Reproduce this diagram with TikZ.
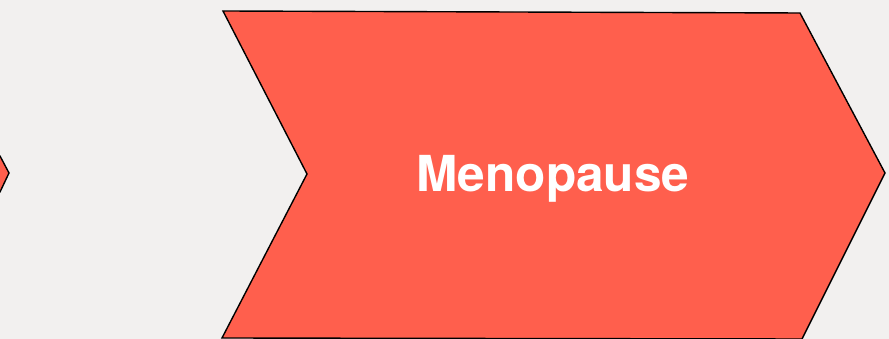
\documentclass[tikz,border=0pt]{standalone}
\usepackage{fontspec}
\setmainfont{TeX Gyre Heros}
\definecolor{bgc}{HTML}{F2F0EF}
\definecolor{chev}{HTML}{FF5F4D}
\begin{document}
\begin{tikzpicture}[x=1pt,y=1pt,
  chevshape/.style={fill=chev,draw=black,line width=1.4pt,line join=miter},
  label/.style={text=white,font=\bfseries\fontsize{49.6}{55}\selectfont,anchor=base,inner sep=0pt}]
\fill[bgc] (0,0) rectangle (889,339);
\useasboundingbox (0,0) rectangle (889,339);
% partial chevron at left edge
\draw[chevshape] (-80,200) -- (0,183) -- (9,166) -- (0,147) -- (-80,130) -- cycle;
% main chevron
\draw[chevshape] (223,328) -- (800,326) -- (885,166) -- (802,0) -- (222,1) -- (307,165) -- cycle;
\node[label] (t) at (553,147) {Menopause};
\end{tikzpicture}
\end{document}
